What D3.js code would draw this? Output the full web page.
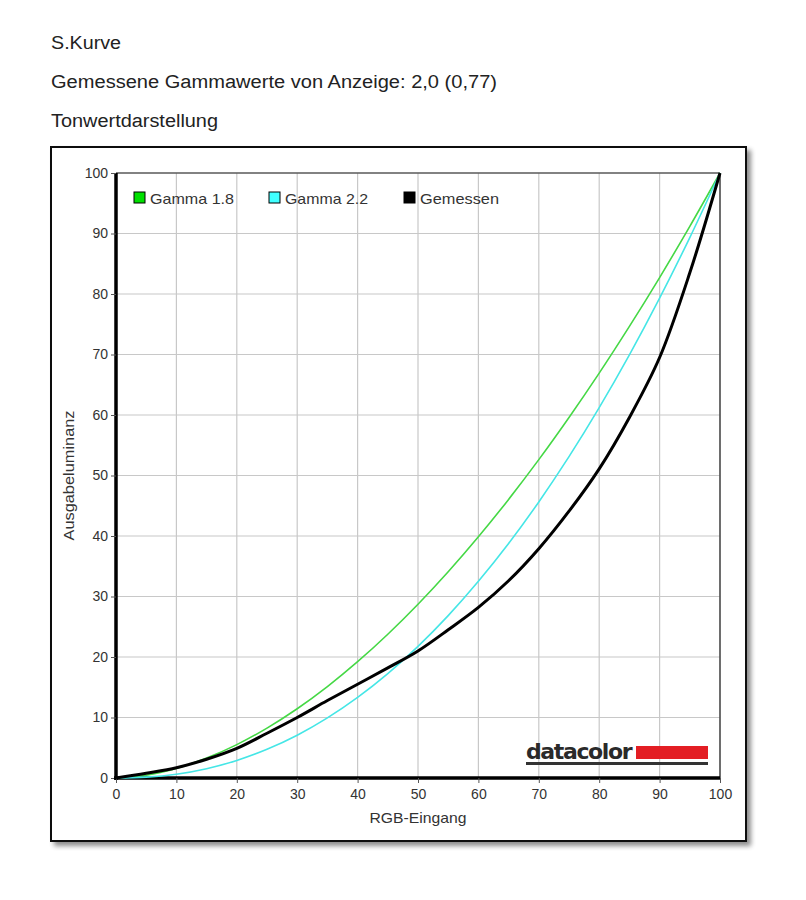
<!DOCTYPE html>
<html><head><meta charset="utf-8">
<script src="https://cdnjs.cloudflare.com/ajax/libs/d3/7.8.5/d3.min.js"></script>
<style>
body{margin:0;background:#fff;font-family:"Liberation Sans",Arial,sans-serif;}
</style></head><body>
<svg id="c" width="806" height="900"></svg>
<script>
const titles = ["S.Kurve", "Gemessene Gammawerte von Anzeige: 2,0 (0,77)", "Tonwertdarstellung"];
const titleWidths = [70, 446, 167];
const xValues = [0,5,10,15,20,25,30,35,40,45,50,55,60,65,70,75,80,85,90,95,100];
const gamma18 = [0,0.46,1.59,3.29,5.52,8.25,11.45,15.11,19.22,23.76,28.72,34.09,39.87,46.05,52.62,59.59,66.92,74.64,82.72,91.18,100];
const gamma22 = [0,0.14,0.63,1.54,2.90,4.74,7.07,9.93,13.32,17.26,21.76,26.84,32.51,38.76,45.63,53.11,61.21,69.94,79.31,89.33,100];
const measured = [0,0.8,1.7,3.1,4.9,7.4,10.0,12.8,15.5,18.2,21.0,24.5,28.2,32.6,37.9,44.1,51.1,59.6,69.5,83.5,100];
const xTicks = [0,10,20,30,40,50,60,70,80,90,100];
const yTicks = [0,10,20,30,40,50,60,70,80,90,100];
const seriesNames = ["Gamma 1.8","Gamma 2.2","Gemessen"];
const seriesColors = ["#45d845","#45e6e6","#000000"];
const legendFill = ["#00e000","#40ffff","#000000"];

const svg = d3.select("#c");

// page titles
svg.selectAll("text.title").data(titles).join("text")
  .attr("x", 51).attr("y", (d,i)=>49 + i*39)
  .attr("font-size", 18).attr("fill", "#222")
  .attr("textLength",(d,i)=>titleWidths[i]).attr("lengthAdjust","spacingAndGlyphs").text(d=>d);

// frame with shadow
const defs = svg.append("defs");
const f = defs.append("filter").attr("id","sh").attr("x","-5%").attr("y","-5%").attr("width","115%").attr("height","115%");
f.append("feGaussianBlur").attr("in","SourceAlpha").attr("stdDeviation",2.5);
f.append("feOffset").attr("dx",4).attr("dy",4).attr("result","b");
f.append("feComponentTransfer").append("feFuncA").attr("type","linear").attr("slope",0.45);
const m = f.append("feMerge"); m.append("feMergeNode"); m.append("feMergeNode").attr("in","SourceGraphic");
svg.append("rect").attr("x",51).attr("y",147).attr("width",695).attr("height",694)
  .attr("fill","#fff").attr("stroke","#111").attr("stroke-width",2).attr("filter","url(#sh)");

const L=116, R=720, T=173, B=778;
const x = d3.scaleLinear().domain([0,100]).range([L,R]);
const y = d3.scaleLinear().domain([0,100]).range([B,T]);

// grid
svg.append("g").selectAll("line").data(xTicks.slice(1)).join("line")
  .attr("x1",d=>x(d)).attr("x2",d=>x(d)).attr("y1",T).attr("y2",B)
  .attr("stroke","#c8c8c8").attr("stroke-width",1.2);
svg.append("g").selectAll("line").data(yTicks.slice(1)).join("line")
  .attr("x1",L).attr("x2",R).attr("y1",d=>y(d)).attr("y2",d=>y(d))
  .attr("stroke","#c8c8c8").attr("stroke-width",1.2);
// plot border
svg.append("line").attr("x1",L).attr("x2",R).attr("y1",T).attr("y2",T).attr("stroke","#222").attr("stroke-width",1.2);
svg.append("line").attr("x1",R).attr("x2",R).attr("y1",T).attr("y2",B).attr("stroke","#222").attr("stroke-width",1.2);

// axes
const yAxis = svg.append("g").attr("transform",`translate(${L},0)`)
  .call(d3.axisLeft(y).tickValues(yTicks).tickSize(5).tickPadding(3).tickFormat(d3.format("d")));
const xAxis = svg.append("g").attr("transform",`translate(0,${B})`)
  .call(d3.axisBottom(x).tickValues(xTicks).tickSize(5).tickPadding(6).tickFormat(d3.format("d")));
[yAxis,xAxis].forEach(g=>{
  g.select(".domain").attr("stroke","#000").attr("stroke-width",3.5);
  g.selectAll(".tick line").attr("stroke","#555");
  g.selectAll(".tick text").attr("font-family","Liberation Sans, Arial, sans-serif").attr("font-size",14).attr("fill","#333");
});
xAxis.select(".domain").attr("d",`M${L-2},0H${R}`);
yAxis.select(".domain").attr("d",`M0,${B+2}V${T}`);

// axis titles
svg.append("text").attr("x",(L+R)/2).attr("y",823).attr("text-anchor","middle")
  .attr("font-size",15).attr("fill","#333").attr("textLength",97).attr("lengthAdjust","spacingAndGlyphs").text("RGB-Eingang");
svg.append("text").attr("transform",`translate(74,${(T+B)/2}) rotate(-90)`).attr("text-anchor","middle")
  .attr("font-size",15).attr("fill","#333").attr("textLength",130).attr("lengthAdjust","spacingAndGlyphs").text("Ausgabeluminanz");

// lines
const data = [gamma18,gamma22,measured];
const line = d3.line().x((d,i)=>x(xValues[i])).y(d=>y(d)).curve(d3.curveCatmullRom.alpha(0.5));
svg.append("g").selectAll("path").data(data).join("path")
  .attr("d",d=>line(d)).attr("fill","none")
  .attr("stroke",(d,i)=>seriesColors[i])
  .attr("stroke-width",(d,i)=>i===2?3:1.6)
  .attr("stroke-linejoin","round");

// legend
const legX = [134,269,404];
const legW = [84,83,79];
const lg = svg.append("g").selectAll("g").data(seriesNames).join("g")
  .attr("transform",(d,i)=>`translate(${legX[i]},192)`);
lg.append("rect").attr("width",11).attr("height",11).attr("fill",(d,i)=>legendFill[i]).attr("stroke","#000").attr("stroke-width",1);
lg.append("text").attr("x",16).attr("y",11.5).attr("font-size",15).attr("fill","#333")
  .attr("textLength",(d,i)=>legW[i]).attr("lengthAdjust","spacingAndGlyphs").text(d=>d);

// datacolor logo
const logo = svg.append("g");
logo.append("text").attr("x",526).attr("y",759).attr("font-size",22).attr("font-weight","bold")
  .attr("font-family","DejaVu Sans, sans-serif").attr("fill","#2a2a2a").attr("letter-spacing","-0.5").attr("textLength",106).text("datacolor");
logo.append("rect").attr("x",636).attr("y",746).attr("width",72).attr("height",13).attr("fill","#e31e24");
logo.append("rect").attr("x",526).attr("y",762).attr("width",182).attr("height",3).attr("fill","#333");
</script>
</body></html>
